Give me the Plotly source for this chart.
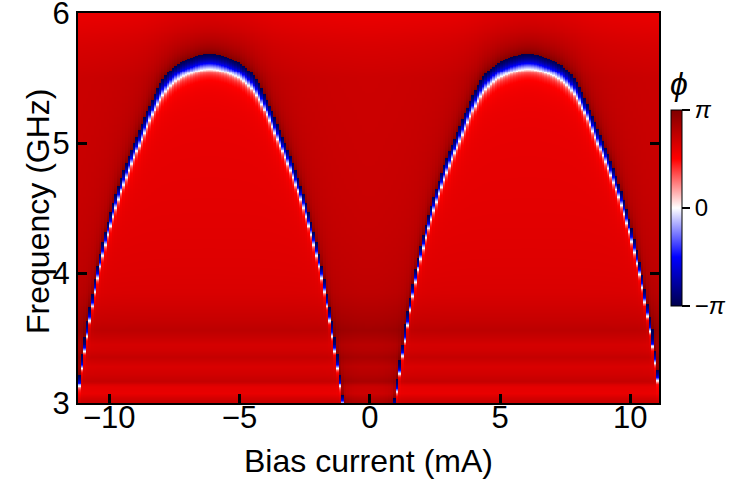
import numpy as np
import plotly.graph_objects as go

# ---- sweep extents ----
current_start, current_stop, current_step = -11.2, 11.1, 0.1    # mA
freq_start, freq_stop, freq_step = 3.0, 6.0, 0.0075             # GHz

# ---- resonance lobes ----
lobe_centres = [-6.15, 6.08]                                     # mA
# half-width of a lobe (mA) at the frequency of the white (phi = 0) line (GHz)
lobe_halfwidth = [0.00, 0.96, 1.63, 2.77, 3.50, 4.25, 4.67, 4.87, 5.06, 5.45, 5.95]
lobe_freq      = [5.567, 5.515, 5.41, 4.946, 4.56, 4.00, 3.54, 3.30, 3.04, 2.50, 1.00]

# ---- background phase (rad) vs frequency (GHz): horizontal bands ----
bg_freq  = [3.00, 3.03, 3.07, 3.12, 3.17, 3.22, 3.28, 3.35, 3.40, 3.45, 3.50,
            3.56, 3.62, 3.70, 3.85, 4.00, 4.30, 4.60, 5.00, 5.50, 5.75, 6.00]
bg_phase = [2.25, 2.15, 1.85, 1.90, 2.30, 2.15, 2.05, 2.30, 2.15, 2.10, 2.25,
            2.40, 2.30, 2.20, 2.05, 2.00, 1.95, 1.92, 1.90, 1.88, 1.72, 1.48]

q_above, q_below = 50, 120          # sharpness of the phase roll above / below the line
shadow_amp, shadow_Q = 0.32, 8

x_ticks = [-10, -5, 0, 5, 10]
y_ticks = [3, 4, 5, 6]
cbar_tickvals = [-np.pi, 0, np.pi]
cbar_ticktext = ["\u2212<i>\u03c0</i>", "0", "<i>\u03c0</i>"]

# ---- seismic colour map ----
seismic = [[0.0, "rgb(0,0,77)"], [0.25, "rgb(0,0,255)"], [0.5, "rgb(255,255,255)"],
           [0.75, "rgb(255,0,0)"], [1.0, "rgb(128,0,0)"]]


def pchip(xk, yk, x):
    xk = np.asarray(xk, float); yk = np.asarray(yk, float)
    h = np.diff(xk); d = np.diff(yk) / h
    m = np.zeros_like(yk)
    m[0], m[-1] = d[0], d[-1]
    for k in range(1, len(xk) - 1):
        if d[k - 1] * d[k] > 0:
            w1 = 2 * h[k] + h[k - 1]; w2 = h[k] + 2 * h[k - 1]
            m[k] = (w1 + w2) / (w1 / d[k - 1] + w2 / d[k])
    x = np.clip(x, xk[0], xk[-1])
    i = np.clip(np.searchsorted(xk, x) - 1, 0, len(xk) - 2)
    t = (x - xk[i]) / h[i]
    h00 = 2 * t**3 - 3 * t**2 + 1; h10 = t**3 - 2 * t**2 + t
    h01 = -2 * t**3 + 3 * t**2; h11 = t**3 - t**2
    return h00 * yk[i] + h10 * h[i] * m[i] + h01 * yk[i + 1] + h11 * h[i] * m[i + 1]


currents = np.arange(current_start + current_step / 2, current_stop, current_step)
freqs = np.arange(freq_start + freq_step / 2, freq_stop, freq_step)

hw = np.array(lobe_halfwidth); lf = np.array(lobe_freq)
s_knots = np.concatenate([-hw[::-1], hw[1:]])
f_knots = np.concatenate([lf[::-1], lf[1:]])
centres = np.array(lobe_centres)
offsets = currents[:, None] - centres[None, :]
nearest = offsets[np.arange(len(currents)), np.argmin(np.abs(offsets), axis=1)]
f_white = pchip(s_knots, f_knots, nearest)

F, FW = np.meshgrid(freqs, f_white, indexing="ij")
bg = np.interp(freqs, bg_freq, bg_phase)[:, None]
q = np.where(F > FW, q_above, q_below)
xr = 2 * q * (F - FW) / FW - 0.64
theta = -np.pi - 2 * np.arctan(xr)
shadow = shadow_amp * (0.5 + np.arctan(2 * shadow_Q * (F - FW) / FW) / np.pi)
phase = np.mod(bg + theta + shadow + np.pi, 2 * np.pi) - np.pi

font_family = "Liberation Sans, Arial"

fig = go.Figure(go.Heatmap(
    x=currents, y=freqs, z=phase, zmin=-np.pi, zmax=np.pi,
    colorscale=seismic,
    colorbar=dict(
        x=1.0198, xanchor="left", xpad=0, y=0.553, yanchor="middle",
        len=237, lenmode="pixels", ypad=0, thickness=11,
        outlinewidth=1, outlinecolor="black",
        tickvals=cbar_tickvals, ticktext=cbar_ticktext,
        ticks="outside", ticklen=8, tickwidth=2, tickcolor="black",
        tickfont=dict(size=24, color="black", family=font_family),
        title=dict(text="<i>\u03d5</i>", side="top",
                   font=dict(size=32, color="black", family=font_family)),
    ),
))

tick_font = dict(size=31, color="black", family=font_family)
title_font = dict(size=32, color="black", family=font_family)
fig.update_layout(
    width=738, height=483,
    margin=dict(l=78, r=78.5, t=13, b=79.5, autoexpand=False),
    paper_bgcolor="white", plot_bgcolor="white",
    xaxis=dict(range=[current_start, current_stop], tickvals=x_ticks,
               ticks="inside", ticklen=9, tickwidth=3, tickcolor="black",
               showline=True, linecolor="black", linewidth=2, mirror=True,
               showgrid=False, zeroline=False, tickfont=tick_font,
               ticklabelstandoff=-14,
               ticklabeloverflow="allow", automargin=False),
    yaxis=dict(range=[freq_start, freq_stop], tickvals=y_ticks,
               ticks="inside", ticklen=9, tickwidth=3, tickcolor="black",
               showline=True, linecolor="black", linewidth=2, mirror="ticks",
               showgrid=False, zeroline=False, tickfont=tick_font,
               ticklabeloverflow="allow", automargin=False),
    annotations=[
        dict(text="Frequency (GHz)", textangle=-90, showarrow=False,
             xref="paper", yref="paper", x=-0.0688, y=0.49,
             xanchor="center", yanchor="middle", font=title_font),
        dict(text="Bias current (mA)", showarrow=False,
             xref="paper", yref="paper", x=0.5, y=-0.1498,
             xanchor="center", yanchor="middle", font=title_font),
    ],
)

fig.write_html("out.html")
